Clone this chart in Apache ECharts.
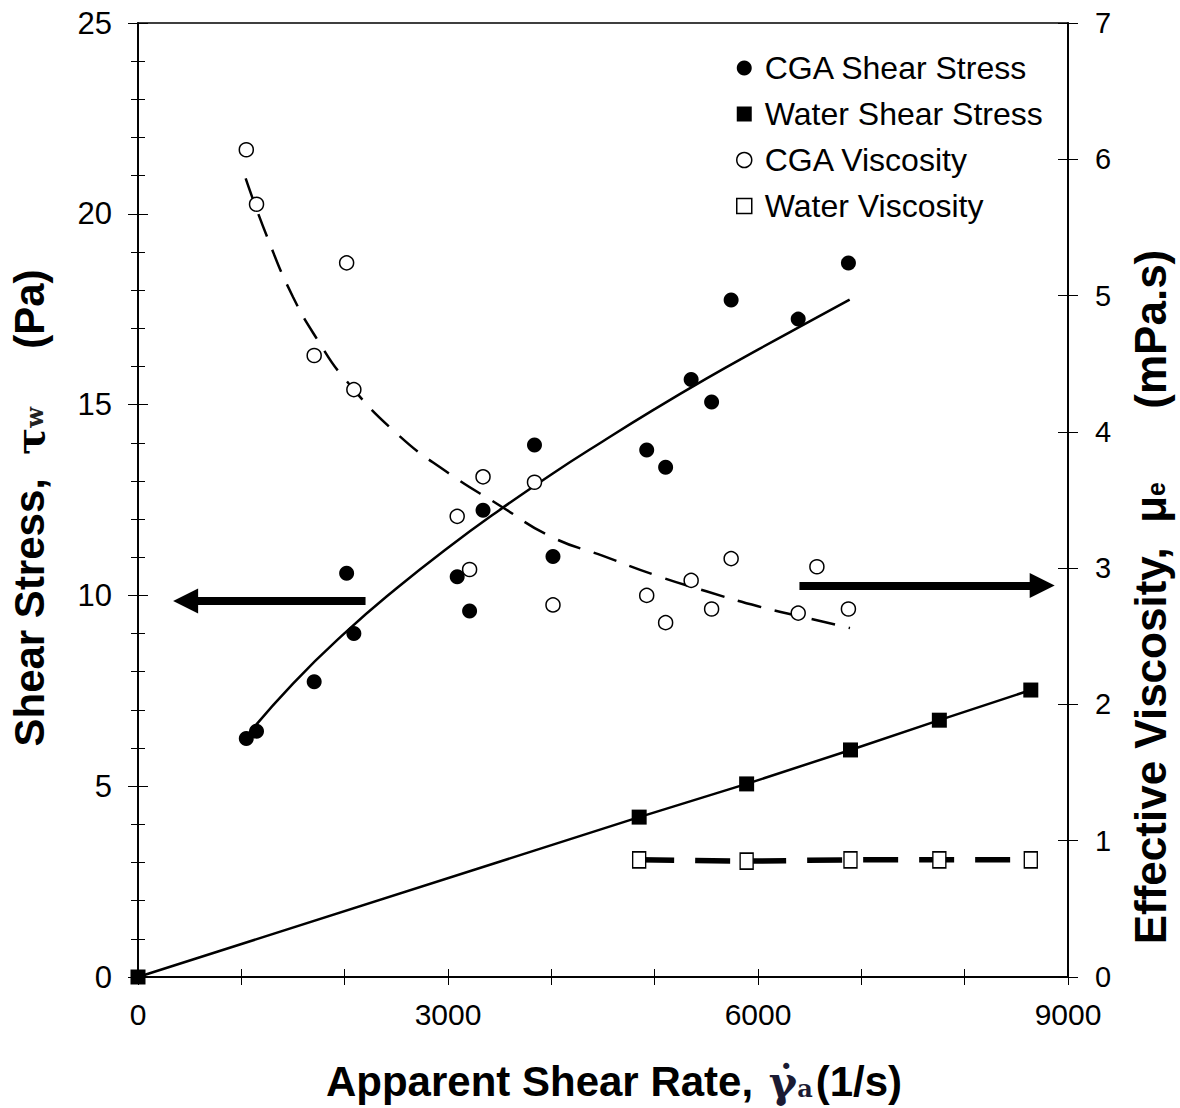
<!DOCTYPE html>
<html><head><meta charset="utf-8">
<script src="https://cdn.jsdelivr.net/npm/echarts@6/dist/echarts.min.js"></script>
<style>html,body{margin:0;padding:0;background:#fff}#c{width:1180px;height:1108px}</style>
</head><body><div id="c"></div>
<script>
// ---- data ----
const cgaRate    = [1048, 1147, 1705, 2019, 2089, 3089, 3209, 3339, 3837, 4016, 4923, 5106, 5353, 5551, 5740, 6389, 6875];
const cgaStress  = [6.25, 6.44, 7.74, 10.58, 9.00, 10.49, 9.59, 12.23, 13.94, 11.02, 13.81, 13.36, 15.66, 15.07, 17.74, 17.24, 18.71];
const cgaViscRate = [1048, 1147, 1705, 2019, 2089, 3089, 3209, 3339, 3837, 4016, 4923, 5106, 5353, 5551, 5740, 6389, 6570, 6875];
const cgaVisc     = [6.07, 5.67, 4.56, 5.24, 4.31, 3.38, 2.99, 3.67, 3.63, 2.73, 2.80, 2.60, 2.91, 2.70, 3.07, 2.67, 3.01, 2.70];
const waterStressRate = [0, 4850, 5890, 6895, 7755, 8640];
const waterStress     = [0, 4.19, 5.06, 5.95, 6.73, 7.52];
const waterViscRate = [4850, 5890, 6895, 7755, 8640];
const waterVisc     = [0.86, 0.85, 0.86, 0.86, 0.86];
// fitted trend curves
const cgaStressFitRate = [1048, 1500, 2000, 2500, 3000, 3500, 4000, 4500, 5000, 5500, 6000, 6500, 6887];
const cgaStressFit     = [6.30, 7.69, 9.01, 10.18, 11.25, 12.24, 13.17, 14.04, 14.88, 15.68, 16.44, 17.18, 17.75];
const cgaViscFitRate = [1042, 1250, 1500, 1750, 2000, 2500, 3000, 3500, 4000, 4500, 5000, 5500, 6000, 6500, 6890];
const cgaViscFit     = [5.86, 5.43, 4.99, 4.66, 4.39, 3.99, 3.70, 3.46, 3.23, 3.09, 2.95, 2.83, 2.72, 2.63, 2.56];
// annotation arrows: [fromX, toX, y (left axis)]
const arrowLeft  = [2202, 461, 9.85];
const arrowRight = [6401, 8750, 10.26];
// axis ranges / ticks
const xRange = [0, 9000, 3000];
const yLeftRange = [0, 25, 5];
const yRightRange = [0, 7, 1];
const legendNames = ['CGA Shear Stress', 'Water Shear Stress', 'CGA Viscosity', 'Water Viscosity'];

const zip = (a, b) => a.map((v, i) => [v, b[i]]);
const titleFont = "'Liberation Sans', Arial, sans-serif";
const tickFont = "'Liberation Sans', Arial, sans-serif";
const serifFont = "'DejaVu Serif', 'Liberation Serif', serif";
const black = '#000';

function xAxisDef(inside, withLabels) {
  return {
    type: 'value', position: 'bottom', min: xRange[0], max: xRange[1], interval: xRange[2],
    axisLine: { show: true, lineStyle: { color: black, width: 1.5 } },
    axisTick: { show: true, inside: inside, length: 8, lineStyle: { color: black, width: 1 } },
    minorTick: { show: true, splitNumber: 3, length: 8, lineStyle: { color: black, width: 1 } },
    axisLabel: { show: withLabels, color: black, fontSize: 30, fontFamily: tickFont, margin: 22, formatter: v => String(v) },
    splitLine: { show: false },
    name: withLabels ? 'Apparent Shear Rate, {g|γ̇}{a|a}{n|(1/s)}' : '',
    nameLocation: 'middle', nameGap: 83,
    nameTextStyle: {
      color: black, fontSize: 42, fontWeight: 'bold', fontFamily: titleFont, padding: [0, 0, 0, 22],
      rich: {
        g: { fontSize: 43, fontWeight: 'bold', fontFamily: serifFont, color: '#1b1b33', padding: [0, 0, 0, 4] },
        a: { fontSize: 24, fontWeight: 'bold', fontFamily: serifFont, padding: [14, 3, 0, 0], color: '#1b1b33' },
        n: { fontSize: 42, fontWeight: 'bold', fontFamily: titleFont, color: black }
      }
    }
  };
}
function yLeftDef(inside, withLabels) {
  return {
    type: 'value', position: 'left', min: yLeftRange[0], max: yLeftRange[1], interval: yLeftRange[2],
    axisLine: { show: true, lineStyle: { color: black, width: 1.5 } },
    axisTick: { show: true, inside: inside, length: 10, lineStyle: { color: black, width: 1 } },
    minorTick: { show: true, splitNumber: 5, length: 7, lineStyle: { color: black, width: 1 } },
    axisLabel: { show: withLabels, color: black, fontSize: 31, fontFamily: tickFont, margin: 26 },
    splitLine: { show: false },
    name: withLabels ? 'Shear Stress,  {t|τ}{w|w}     (Pa)' : '',
    nameLocation: 'middle', nameGap: 88, nameRotate: 90,
    nameTextStyle: {
      color: black, fontSize: 42, fontWeight: 'bold', fontFamily: titleFont, padding: [0, 16, 0, 0],
      rich: {
        t: { fontSize: 40, fontWeight: 'bold', fontFamily: serifFont, color: black },
        w: { fontSize: 24, fontFamily: serifFont, color: '#222', padding: [10, 0, 0, 0] }
      }
    }
  };
}
function yRightDef(inside, withLabels) {
  return {
    type: 'value', position: 'right', min: yRightRange[0], max: yRightRange[1], interval: yRightRange[2],
    axisLine: { show: true, lineStyle: { color: black, width: 1.5 } },
    axisTick: { show: true, inside: inside, length: 10, lineStyle: { color: black, width: 1 } },
    axisLabel: { show: withLabels, color: black, fontSize: 29, fontFamily: tickFont, margin: 27 },
    splitLine: { show: false },
    name: withLabels ? 'Effective Viscosity,  {m|μ}{e|e}      (mPa.s)' : '',
    nameLocation: 'middle', nameGap: 60, nameRotate: 90,
    nameTextStyle: {
      color: black, fontSize: 44, fontWeight: 'bold', fontFamily: titleFont, padding: [0, 194, 0, 0],
      rich: {
        m: { fontSize: 44, fontWeight: 'bold', fontFamily: titleFont, color: black },
        e: { fontSize: 25, fontWeight: 'bold', fontFamily: titleFont, color: black, padding: [12, 0, 0, 0] }
      }
    }
  };
}

const chart = echarts.init(document.getElementById('c'), null, { renderer: 'svg' });
chart.setOption({
  animation: false,
  backgroundColor: '#fff',
  grid: { left: 136, right: 109, top: 23, bottom: 131, show: true, borderColor: black, borderWidth: 1.5, backgroundColor: 'transparent' },
  xAxis: [xAxisDef(false, true), xAxisDef(true, false)],
  yAxis: [yLeftDef(false, true), yLeftDef(true, false), yRightDef(false, true), yRightDef(true, false)],
  legend: {
    data: [
      { name: legendNames[0], icon: 'circle', itemStyle: { color: black, borderWidth: 0 } },
      { name: legendNames[1], icon: 'rect', itemStyle: { color: black, borderWidth: 0 } },
      { name: legendNames[2], icon: 'circle', itemStyle: { color: '#fff', borderColor: black, borderWidth: 1.5 } },
      { name: legendNames[3], icon: 'rect', itemStyle: { color: '#fff', borderColor: black, borderWidth: 1.5 } }
    ],
    orient: 'vertical', left: 731, top: 47, itemWidth: 15, itemHeight: 15, itemGap: 14,
    selectedMode: false,
    textStyle: { color: black, fontSize: 32, fontFamily: tickFont, lineHeight: 31, padding: [0, 0, 0, 8] }
  },
  series: [
    {
      name: 'cgaStressFit', type: 'line', xAxisIndex: 0, yAxisIndex: 0, smooth: true, showSymbol: false, silent: true,
      data: zip(cgaStressFitRate, cgaStressFit), lineStyle: { color: black, width: 2.5 }, z: 2,
      markLine: {
        silent: true, symbol: ['none', 'triangle'], symbolSize: 25,
        label: { show: false },
        lineStyle: { color: black, width: 8, type: 'solid' },
        data: [
          [{ coord: [arrowLeft[0], arrowLeft[2]] }, { coord: [arrowLeft[1], arrowLeft[2]] }],
          [{ coord: [arrowRight[0], arrowRight[2]] }, { coord: [arrowRight[1], arrowRight[2]] }]
        ]
      }
    },
    {
      name: 'cgaViscFit', type: 'line', xAxisIndex: 0, yAxisIndex: 2, smooth: true, showSymbol: false, silent: true,
      data: zip(cgaViscFitRate, cgaViscFit), lineStyle: { color: black, width: 2.5, type: [24, 14] }, z: 2
    },
    {
      name: legendNames[1], type: 'line', xAxisIndex: 0, yAxisIndex: 0, symbol: 'rect', symbolSize: 15, showSymbol: true,
      data: zip(waterStressRate, waterStress), lineStyle: { color: black, width: 2.5 },
      itemStyle: { color: black }, z: 3
    },
    {
      name: legendNames[3], type: 'line', xAxisIndex: 0, yAxisIndex: 2, symbol: 'rect', symbolSize: [13, 16], showSymbol: true,
      data: zip(waterViscRate, waterVisc), lineStyle: { color: black, width: 5.5, type: [35, 21] },
      itemStyle: { color: '#fff', borderColor: black, borderWidth: 1.5 }, z: 3
    },
    {
      name: legendNames[0], type: 'scatter', xAxisIndex: 0, yAxisIndex: 0, symbol: 'circle', symbolSize: 15,
      data: zip(cgaRate, cgaStress), itemStyle: { color: black, opacity: 1 }, z: 4
    },
    {
      name: legendNames[2], type: 'scatter', xAxisIndex: 0, yAxisIndex: 2, symbol: 'circle', symbolSize: 14,
      data: zip(cgaViscRate, cgaVisc), itemStyle: { color: '#fff', borderColor: black, borderWidth: 1.5, opacity: 1 }, z: 4
    }
  ]
});
</script>
</body></html>
